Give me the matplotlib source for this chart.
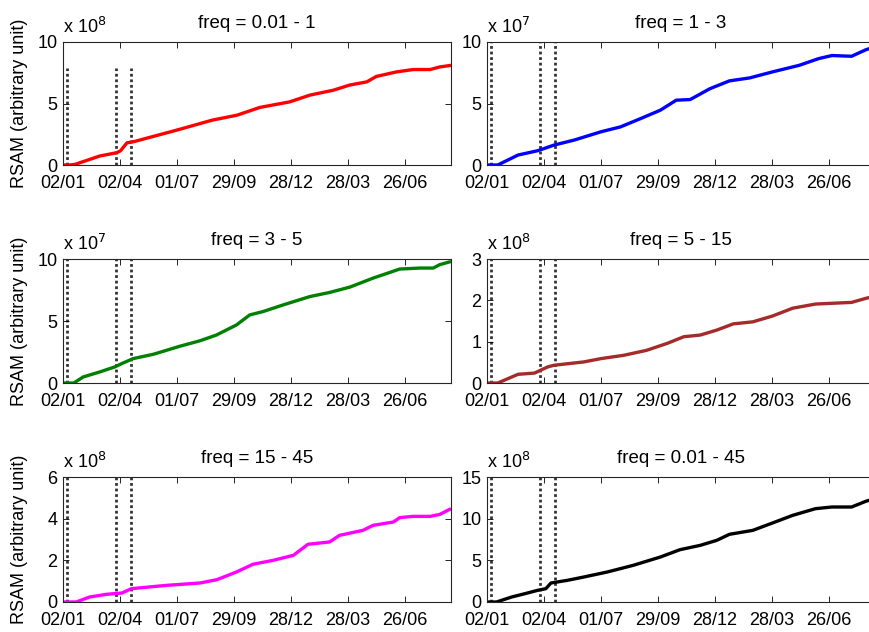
import matplotlib
matplotlib.use('Agg')
import matplotlib.pyplot as plt

plt.rcParams['font.family'] = ['Liberation Sans', 'DejaVu Sans']

# x axis: days since 02/01, ticks every 90 days
tick_days = [0, 90, 180, 270, 360, 450, 540]
tick_labels = ['02/01', '02/04', '01/07', '29/09', '28/12', '28/03', '26/06']
x_end = 613

# event markers (days)
event_days = [6, 84, 107]

titles = ['freq = 0.01 - 1', 'freq = 1 - 3', 'freq = 3 - 5',
          'freq = 5 - 15', 'freq = 15 - 45', 'freq = 0.01 - 45']
colors = ['#ff0000', '#0000ff', '#008000', '#a52a2a', '#ff00ff', '#000000']
exponents = [8, 7, 7, 8, 8, 8]
ylims = [10, 10, 10, 3, 6, 15]
yticks = [[0, 5, 10], [0, 5, 10], [0, 5, 10], [0, 1, 2, 3], [0, 2, 4, 6], [0, 5, 10, 15]]
event_tops = [7.85, 10, 10, 3, 6, 15]

# cumulative RSAM (in units of 10^exponent)
red_days = [0, 10, 19, 58, 85, 91, 101, 112, 180, 236, 275, 311, 358, 390, 427, 453,
            480, 495, 527, 553, 580, 595, 613]
red_vals = [0, 0, 0.05, 0.73, 1.0, 1.16, 1.8, 1.9, 2.84, 3.65, 4.05, 4.68, 5.13, 5.68,
            6.08, 6.5, 6.76, 7.2, 7.57, 7.76, 7.76, 7.97, 8.1]

blue_days = [0, 17, 49, 80, 106, 138, 180, 211, 243, 274, 299, 321, 352, 383, 415,
             451, 493, 524, 545, 576, 599, 613]
blue_vals = [0, 0, 0.81, 1.16, 1.62, 2.03, 2.7, 3.1, 3.78, 4.46, 5.27, 5.32, 6.2, 6.84,
             7.08, 7.57, 8.1, 8.65, 8.9, 8.84, 9.38, 9.6]

green_days = [0, 17, 32, 58, 82, 93, 111, 143, 185, 216, 242, 274, 295, 316, 348, 390,
              421, 453, 490, 532, 564, 585, 595, 613]
green_vals = [0, 0, 0.49, 0.89, 1.3, 1.57, 1.97, 2.32, 2.97, 3.4, 3.86, 4.68, 5.49,
              5.76, 6.3, 6.97, 7.3, 7.73, 8.46, 9.19, 9.27, 9.27, 9.54, 9.8]

brown_days = [0, 17, 49, 75, 96, 106, 153, 180, 216, 252, 285, 311, 337, 363, 389, 420,
              451, 483, 519, 576, 599, 613]
brown_vals = [0, 0, 0.21, 0.24, 0.39, 0.43, 0.51, 0.59, 0.67, 0.79, 0.96, 1.12, 1.16,
              1.28, 1.43, 1.48, 1.62, 1.81, 1.91, 1.95, 2.05, 2.1]

magenta_days = [0, 21, 42, 69, 93, 108, 164, 216, 243, 274, 300, 332, 364, 387, 421,
                437, 474, 490, 522, 532, 553, 580, 595, 613]
magenta_vals = [0, 0, 0.24, 0.37, 0.43, 0.64, 0.8, 0.91, 1.07, 1.44, 1.81, 2.0, 2.24,
                2.77, 2.88, 3.2, 3.44, 3.68, 3.84, 4.05, 4.11, 4.11, 4.2, 4.48]

black_days = [0, 15, 39, 60, 80, 93, 101, 127, 153, 190, 231, 274, 305, 337, 363, 383,
              420, 451, 483, 519, 545, 576, 599, 613]
black_vals = [0, 0, 0.6, 1.0, 1.4, 1.6, 2.28, 2.6, 3.0, 3.6, 4.4, 5.4, 6.28, 6.8, 7.4,
              8.12, 8.6, 9.48, 10.4, 11.2, 11.4, 11.4, 12.1, 12.4]

series = [(red_days, red_vals), (blue_days, blue_vals), (green_days, green_vals),
          (brown_days, brown_vals), (magenta_days, magenta_vals), (black_days, black_vals)]

W, H = 870, 632
fig = plt.figure(figsize=(W / 100, H / 100), dpi=100)

# axes boxes in pixels: left, top, bottom
col_left = [63, 487]
row_box = [(42, 165), (259, 383), (477, 602)]
ax_w = 388

for i in range(6):
    r, c = divmod(i, 2)
    top, bot = row_box[r]
    ax = fig.add_axes([col_left[c] / W, 1 - bot / H, ax_w / W, (bot - top) / H])

    for d in event_days:
        ax.plot([d, d], [0, event_tops[i]], color='0.2', lw=2.0,
                linestyle=(0, (1, 1)), zorder=1)

    days, vals = series[i]
    ax.plot(days, vals, color=colors[i], lw=2.4, zorder=2, solid_capstyle='butt')

    ax.set_xlim(0, x_end)
    ax.set_ylim(0, ylims[i])
    ax.set_xticks(tick_days)
    ax.set_xticklabels(tick_labels)
    ax.set_yticks(yticks[i])
    ax.tick_params(direction='in', length=4, width=0.6, labelsize=13,
                   top=True, right=True)
    ax.tick_params(axis='x', pad=7)
    ax.tick_params(axis='y', pad=4)
    for s in ax.spines.values():
        s.set_linewidth(0.8)
        s.set_color('0.15')

    ax.set_title(titles[i], fontsize=13.5, pad=10)
    ax.text(0, 1 + 9 / (bot - top), r'x 10$^{%d}$' % exponents[i],
            transform=ax.transAxes, fontsize=13, ha='left', va='baseline')

    if c == 0:
        ax.set_ylabel('RSAM (arbitrary unit)', fontsize=13)
        ax.yaxis.set_label_coords(-0.09, 0.5)

fig.savefig('out.png', dpi=100)
